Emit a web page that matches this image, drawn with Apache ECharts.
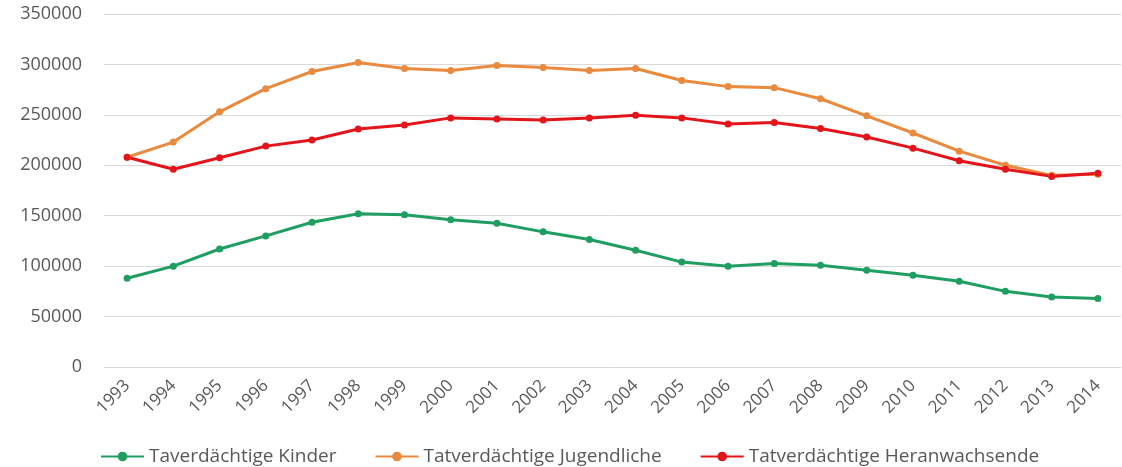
<!DOCTYPE html>
<html lang="de">
<head>
<meta charset="UTF-8">
<title>Tatverdächtige</title>
<script src="https://cdn.jsdelivr.net/npm/echarts@6/dist/echarts.min.js"></script>
<style>
  html, body { margin: 0; padding: 0; background: #fff; }
  #chart { width: 1122px; height: 467px; }
</style>
</head>
<body>
<div id="chart"></div>
<script>
  // Jahre
  const years = ['1993','1994','1995','1996','1997','1998','1999','2000','2001','2002','2003',
                 '2004','2005','2006','2007','2008','2009','2010','2011','2012','2013','2014'];

  // Taverdächtige Kinder
  const kinder = [88000, 100000, 117000, 130000, 143500, 152000, 151000, 146000, 142500, 134000, 126500,
                  115700, 104000, 100000, 102500, 101000, 96000, 91000, 85000, 75000, 69500, 68000];

  // Tatverdächtige Jugendliche
  const jugendliche = [208000, 223000, 253000, 276000, 293000, 302000, 296000, 294000, 299000, 297000, 294000,
                       296000, 284000, 278000, 277000, 266000, 249000, 232000, 214000, 200000, 190000, 191000];

  // Tatverdächtige Heranwachsende
  const heranwachsende = [208000, 196000, 207500, 219000, 225000, 236000, 240000, 247000, 246000, 245000, 247000,
                          249500, 247000, 241000, 242500, 236500, 228000, 217000, 204500, 196000, 189000, 192000];

  const chart = echarts.init(document.getElementById('chart'));

  function lineSeries(name, data, color) {
    return {
      name: name,
      type: 'line',
      data: data,
      symbol: 'circle',
      symbolSize: 7,
      lineStyle: { width: 3, color: color },
      itemStyle: { color: color },
      animation: false
    };
  }

  chart.setOption({
    textStyle: { fontFamily: 'Open Sans' },
    grid: { left: 104, right: 1, top: 14, bottom: 100 },
    legend: {
      left: 95,
      bottom: -4,
      itemWidth: 43,
      itemHeight: 12,
      itemGap: 38,
      textStyle: { fontSize: 19, color: '#595959' },
      data: ['Taverdächtige Kinder', 'Tatverdächtige Jugendliche', 'Tatverdächtige Heranwachsende']
    },
    xAxis: {
      type: 'category',
      data: years,
      boundaryGap: true,
      axisLine: { show: true, lineStyle: { color: '#d9d9d9' } },
      axisTick: { show: false },
      axisLabel: { rotate: 45, fontSize: 17, color: '#595959', margin: 16, interval: 0 }
    },
    yAxis: {
      type: 'value',
      min: 0,
      max: 350000,
      interval: 50000,
      axisLine: { show: false },
      axisTick: { show: false },
      axisLabel: { fontSize: 18, color: '#595959', margin: 22, formatter: v => String(v) },
      splitLine: { lineStyle: { color: '#d9d9d9', width: 1 } }
    },
    series: [
      lineSeries('Taverdächtige Kinder', kinder, '#1f9e62'),
      lineSeries('Tatverdächtige Jugendliche', jugendliche, '#e98a3e'),
      lineSeries('Tatverdächtige Heranwachsende', heranwachsende, '#e3141a')
    ]
  });
</script>
</body>
</html>
